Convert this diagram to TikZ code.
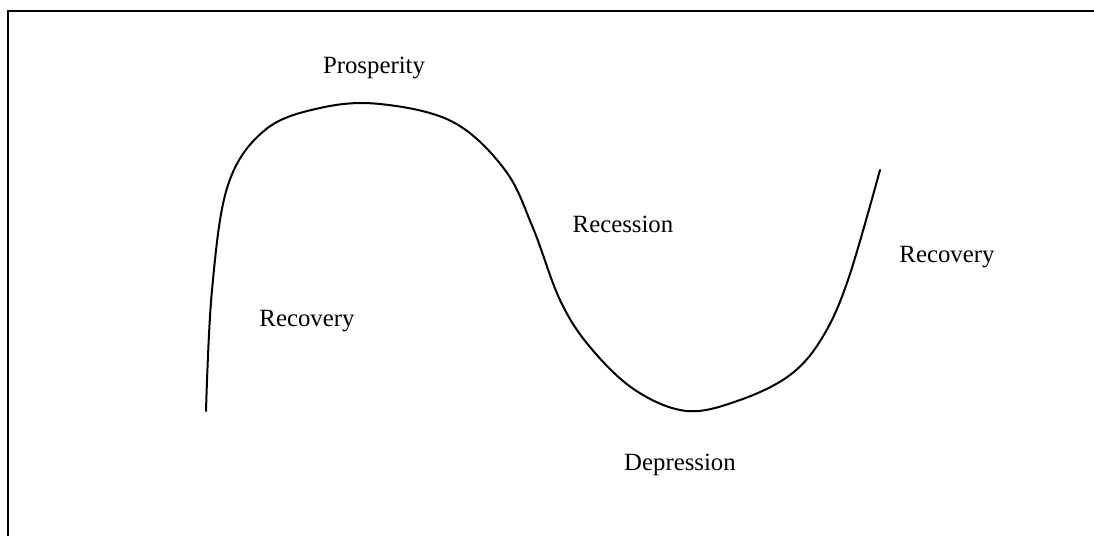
\documentclass[tikz,border=0pt]{standalone}
\usepackage{fontspec}
\setmainfont{Liberation Serif}
\usetikzlibrary{positioning}

\begin{document}
\begin{tikzpicture}[x=0.5pt,y=-0.5pt,
  phase/.style={font=\fontsize{12.4}{14}\selectfont},
  cycle/.style={line width=1pt,line cap=round}]

\useasboundingbox (0,0) rectangle (1094,536);

% frame
\draw[line width=1.1pt] (8,540) -- (8,11) -- (1100,11);

% the business cycle
\draw[cycle] plot[smooth,tension=0.6] coordinates {
  (206,411) (212,290) (228,185) (265,130) (320,108) (380,104)
  (453,122) (505,170) (533,228) (560,300) (590,347) (635,390)
  (687,411) (740,400) (790,375) (822,338) (848,280) (880,170)};

\node[phase] (prosp) at (374,68)  {Prosperity};
\node[phase] (reces) at (623,224) {Recession};
\node[phase] (recl)  at (307,321) {Recovery};
\node[phase] (recr)  at (947,257) {Recovery};
\node[phase] (depr)  at (680,465) {Depression};

\end{tikzpicture}
\end{document}
